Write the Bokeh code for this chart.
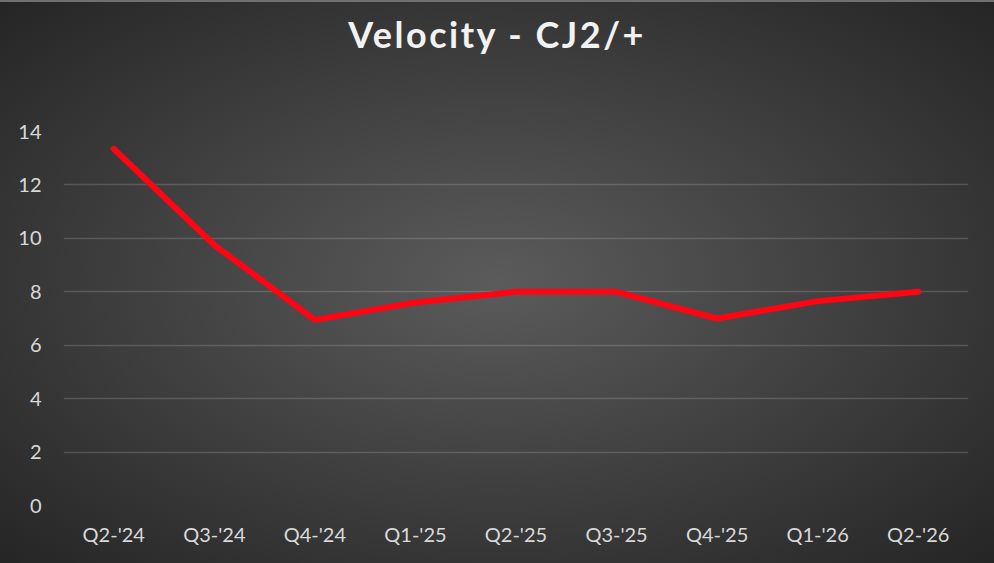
from bokeh.plotting import figure
from bokeh.models import ColumnDataSource, Div, FixedTicker
from bokeh.layouts import column
from bokeh.embed import file_html
from bokeh.resources import INLINE

# data
quarters = ["Q2-'24", "Q3-'24", "Q4-'24", "Q1-'25", "Q2-'25", "Q3-'25", "Q4-'25", "Q1-'26", "Q2-'26"]
velocity = [13.35, 9.75, 6.95, 7.6, 8.0, 8.0, 7.0, 7.65, 8.0]
y_ticks = [0, 2, 4, 6, 8, 10, 12, 14]

title_text = "Velocity - CJ2/+"
label_color = "#d9d9d9"

W, H = 994, 563
TITLE_H = 70

source = ColumnDataSource(data=dict(q=quarters, v=velocity))

#title as a div so it can get letter spacing like the excel one
title = Div(
    text='<div style="text-align:center;width:994px;padding-top:9px;letter-spacing:2.5px;'
         'font-family:Lato;font-weight:bold;font-size:36px;color:#f2f2f2;">'
         + title_text + '</div>',
    width=W, height=TITLE_H, margin=(0, 0, 0, 0))

p = figure(x_range=quarters, y_range=(0, 14), width=W, height=H - TITLE_H,
           output_backend="svg", toolbar_location=None, tools="",
           min_border_left=63, min_border_right=26, min_border_top=131 - TITLE_H,
           min_border_bottom=58, margin=(0, 0, 0, 0))
p.x_range.range_padding = 0
p.background_fill_alpha = 0
p.border_fill_alpha = 0
p.outline_line_color = None

p.line(x='q', y='v', source=source, line_color="#ff0514", line_width=6,
       line_join="round", line_cap="round")

p.yaxis.ticker = FixedTicker(ticks=y_ticks)
for ax in [p.xaxis, p.yaxis]:
    ax.axis_line_color = None
    ax.major_tick_line_color = None
    ax.minor_tick_line_color = None
    ax.major_label_text_font = "Lato"
    ax.major_label_text_font_size = "20px"
    ax.major_label_text_color = label_color
p.yaxis.major_label_standoff = 16
p.xaxis.major_label_standoff = 10

p.xgrid.grid_line_color = None
p.ygrid.grid_line_color = "#d9d9d9"
p.ygrid.grid_line_alpha = 0.2
p.ygrid.grid_line_width = 1.5

layout = column(title, p, width=W, height=H, spacing=0,
                styles={"background": "radial-gradient(ellipse at 50% 50%, #5b5b5b 0%, #252525 100%)",
                        "box-shadow": "inset 0 2px 0 #707070"})

open("out.html", "w").write(file_html(layout, INLINE))
